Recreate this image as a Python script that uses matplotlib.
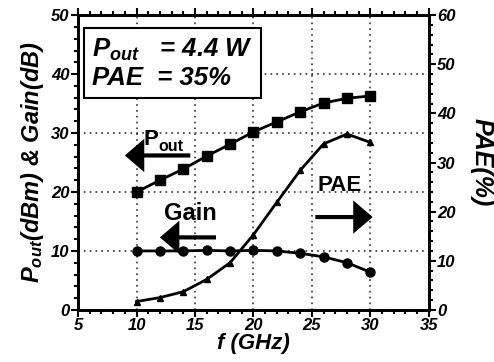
import matplotlib
matplotlib.use("Agg")
import matplotlib.pyplot as plt
from matplotlib.ticker import MultipleLocator

plt.rcParams["font.family"] = ["Liberation Sans", "DejaVu Sans"]
plt.rcParams["font.weight"] = "bold"
plt.rcParams["font.style"] = "italic"
plt.rcParams["axes.labelweight"] = "bold"
plt.rcParams["mathtext.fontset"] = "custom"
plt.rcParams["mathtext.it"] = "Liberation Sans:bold:italic"
plt.rcParams["mathtext.bf"] = "Liberation Sans:bold"
plt.rcParams["mathtext.rm"] = "Liberation Sans:bold"

# data
freq = [10, 12, 14, 16, 18, 20, 22, 24, 26, 28, 30]
pout = [20.0, 22.0, 23.9, 26.1, 28.1, 30.2, 31.9, 33.6, 35.1, 35.9, 36.3]
gain = [10.0, 10.0, 10.0, 10.1, 10.0, 10.1, 10.0, 9.6, 9.0, 8.0, 6.4]
pae = [1.7, 2.5, 3.7, 6.2, 9.6, 15.3, 21.9, 28.4, 33.8, 35.8, 34.1]

x_ticks = [5, 10, 15, 20, 25, 30, 35]
left_ticks = [0, 10, 20, 30, 40, 50]
right_ticks = [0, 10, 20, 30, 40, 50, 60]

fig = plt.figure(figsize=(4.94, 3.62), dpi=100)
ax = fig.add_axes([0.158, 0.144, 0.710, 0.814])
ax2 = ax.twinx()

ax.plot(freq, pout, color="black", lw=2, marker="s", ms=6.5)
ax.plot(freq, gain, color="black", lw=2, marker="o", ms=6.5)
ax2.plot(freq, pae, color="black", lw=2, marker="^", ms=5)

ax.set_xlim(5, 35)
ax.set_ylim(0, 50)
ax2.set_ylim(0, 60)
tfont = dict(fontsize=12, fontweight="bold", fontstyle="italic")
ax.set_xticks(x_ticks, [str(t) for t in x_ticks], **tfont)
ax.set_yticks(left_ticks, [str(t) for t in left_ticks], **tfont)
ax2.set_yticks(right_ticks, [str(t) for t in right_ticks], **tfont)
ax.xaxis.set_minor_locator(MultipleLocator(1))
ax.yaxis.set_minor_locator(MultipleLocator(2))
ax2.yaxis.set_minor_locator(MultipleLocator(2))

ax.grid(True, which="major", ls=(0, (1, 2.5)), lw=1.2, color="#333333")

for a in (ax, ax2):
    for s in a.spines.values():
        s.set_linewidth(2)
    a.tick_params(which="both", direction="out", width=1.5, pad=1)
    a.tick_params(which="major", length=5)
    a.tick_params(which="minor", length=3)
ax.tick_params(which="both", top=True)

ax.set_xlabel("f (GHz)", labelpad=0, fontsize=16, fontweight="bold")
ax.set_ylabel(r"P$_{out}$(dBm) & Gain(dB)", labelpad=4, fontsize=17, fontweight="bold")
ax2.set_ylabel("PAE(%)", rotation=-90, labelpad=27, fontsize=18, fontweight="bold")

ax.text(6.2, 46.3, "P$_{out}$   = 4.4 W\nPAE  = 35%", fontsize=18.5,
        va="top", ha="left", linespacing=1.15,
        bbox=dict(boxstyle="square,pad=0.3", fc="white", ec="black", lw=1.5))

arrow = dict(arrowstyle="simple,head_length=1.4,head_width=2.4,tail_width=0.3",
             mutation_scale=10, lw=0, fc="black", shrinkA=0, shrinkB=0)
ax.text(10.6, 28.0, "P", fontsize=16, style="normal", ha="left")
ax.text(11.9, 26.9, "out", fontsize=11.5, style="normal", ha="left")
ax.annotate("", xy=(9.0, 26.2), xytext=(14.6, 26.2), arrowprops=arrow)
ax.text(14.6, 15.3, "Gain", fontsize=17, style="normal", ha="center")
ax.annotate("", xy=(12.0, 12.3), xytext=(16.8, 12.3), arrowprops=arrow)
ax2.text(27.4, 24.2, "PAE", fontsize=16, style="normal", ha="center")
ax2.annotate("", xy=(30.2, 18.9), xytext=(25.3, 18.9), arrowprops=arrow)

fig.savefig("out.png", dpi=100)
